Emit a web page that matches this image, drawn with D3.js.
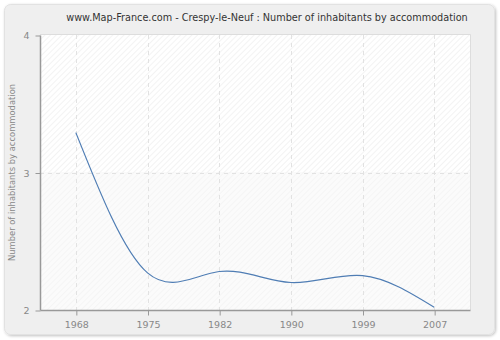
<!DOCTYPE html>
<html>
<head>
<meta charset="utf-8">
<script src="https://cdn.jsdelivr.net/npm/d3@7"></script>
<style>
  html, body { margin: 0; padding: 0; background: #ffffff; }
  svg { display: block; font-family: "DejaVu Sans", Verdana, sans-serif; }
</style>
</head>
<body>
<svg id="chart" width="500" height="340"></svg>
<script>
// Census years (shown as evenly spaced categories)
const years = ["1968", "1975", "1982", "1990", "1999", "2007"];
// Average number of inhabitants per dwelling
const inhabitants = [3.29, 2.27, 2.28, 2.2, 2.25, 2.02];
// Y axis ticks
const yTicks = [2, 3, 4];

const title = "www.Map-France.com - Crespy-le-Neuf : Number of inhabitants by accommodation";
const yTitle = "Number of inhabitants by accommodation";

const svg = d3.select("#chart");
const plot = { left: 40, right: 470, top: 35, bottom: 310 };

const defs = svg.append("defs");

// soft drop shadow for the outer panel
const shadow = defs.append("filter").attr("id", "panelShadow")
  .attr("x", "-5%").attr("y", "-5%").attr("width", "110%").attr("height", "110%");
shadow.append("feGaussianBlur").attr("in", "SourceAlpha").attr("stdDeviation", 1.5);
shadow.append("feOffset").attr("dx", 1).attr("dy", 1).attr("result", "off");
shadow.append("feComponentTransfer").append("feFuncA").attr("type", "linear").attr("slope", 0.25);
const merge = shadow.append("feMerge");
merge.append("feMergeNode");
merge.append("feMergeNode").attr("in", "SourceGraphic");

// diagonal hatching for the plot background bands
function hatch(id, base, line) {
  const p = defs.append("pattern").attr("id", id)
    .attr("patternUnits", "userSpaceOnUse").attr("width", 4).attr("height", 4)
    .attr("patternTransform", "rotate(45)");
  p.append("rect").attr("width", 4).attr("height", 4).attr("fill", base);
  p.append("line").attr("x1", 0).attr("y1", 0).attr("x2", 0).attr("y2", 4)
    .attr("stroke", line).attr("stroke-width", 1.2);
}
hatch("hatchA", "#ffffff", "#ebebeb");
hatch("hatchB", "#fbfbfb", "#f2f2f2");

// outer panel
svg.append("rect")
  .attr("x", 4.5).attr("y", 4.5).attr("width", 490).attr("height", 330)
  .attr("rx", 6).attr("ry", 6)
  .attr("fill", "#efefef").attr("stroke", "#e2e2e2")
  .attr("filter", "url(#panelShadow)");

const x = d3.scalePoint().domain(years).range([plot.left, plot.right]).padding(0.5);
const y = d3.scaleLinear().domain([2, 4]).range([plot.bottom, plot.top]);

// alternating horizontal bands
const bands = d3.pairs(yTicks);
svg.append("g").selectAll("rect").data(bands).join("rect")
  .attr("x", plot.left)
  .attr("y", d => y(d[1]))
  .attr("width", plot.right - plot.left)
  .attr("height", d => y(d[0]) - y(d[1]))
  .attr("fill", (d, i) => i % 2 === 0 ? "url(#hatchB)" : "url(#hatchA)");

// plot frame (top and right)
svg.append("path")
  .attr("d", `M${plot.left},${plot.top - 0.5}H${plot.right + 0.5}V${plot.bottom}`)
  .attr("fill", "none").attr("stroke", "#dddddd");

// grid lines
const grid = svg.append("g").attr("stroke", "#e2e2e2").attr("stroke-dasharray", "4,4");
grid.selectAll("line.v").data(years).join("line").attr("class", "v")
  .attr("x1", d => Math.round(x(d)) + 0.5).attr("x2", d => Math.round(x(d)) + 0.5)
  .attr("y1", plot.top).attr("y2", plot.bottom);
grid.selectAll("line.h").data(yTicks.filter(t => t > 2 && t < 4)).join("line").attr("class", "h")
  .attr("x1", plot.left).attr("x2", plot.right)
  .attr("y1", d => Math.round(y(d)) + 0.5).attr("y2", d => Math.round(y(d)) + 0.5);

// axes
const axisColor = "#999999";
const textColor = "#888888";

const yAxis = svg.append("g")
  .attr("transform", `translate(${plot.left + 0.5},0.5)`)
  .call(d3.axisLeft(y).tickValues(yTicks).tickFormat(d3.format("d")).tickSize(5).tickPadding(6));
const xAxis = svg.append("g")
  .attr("transform", `translate(0.5,${plot.bottom + 0.5})`)
  .call(d3.axisBottom(x).tickSize(5).tickPadding(6));
[yAxis, xAxis].forEach(g => {
  g.select(".domain").attr("stroke", axisColor).attr("stroke-width", 1.5);
  g.selectAll(".tick line").attr("stroke", axisColor);
  g.selectAll(".tick text").attr("fill", textColor)
    .style("font-family", "'DejaVu Sans', Verdana, sans-serif").style("font-size", "9.5px");
});
xAxis.select(".domain").attr("d", `M${plot.left},0H${plot.right}`);
yAxis.select(".domain").attr("d", `M0,${plot.bottom}V${plot.top}`);

// data line
const line = d3.line()
  .x((d, i) => x(years[i]))
  .y(d => y(d))
  .curve(d3.curveNatural);
svg.append("path")
  .datum(inhabitants)
  .attr("d", line)
  .attr("fill", "none")
  .attr("stroke", "#4f7db4")
  .attr("stroke-width", 1.2);

// title
svg.append("text")
  .attr("x", 267).attr("y", 21)
  .attr("text-anchor", "middle")
  .attr("fill", "#333333")
  .style("font-size", "9.7px")
  .text(title);

// y axis title
svg.append("text")
  .attr("transform", `translate(15,${(plot.top + plot.bottom) / 2}) rotate(-90)`)
  .attr("text-anchor", "middle")
  .attr("fill", textColor)
  .style("font-size", "8.4px")
  .text(yTitle);
</script>
</body>
</html>
